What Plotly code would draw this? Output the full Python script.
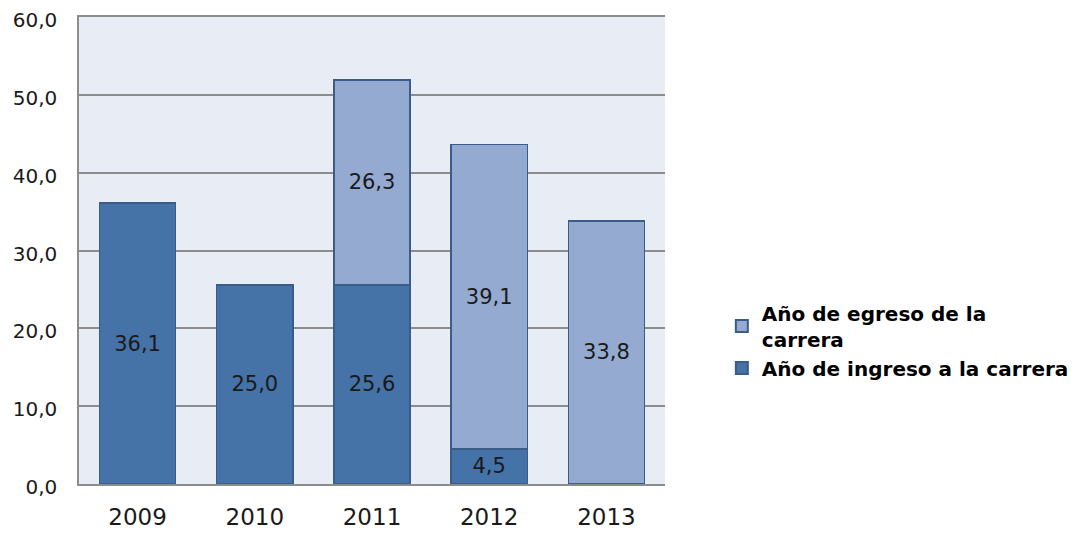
import plotly.graph_objects as go

years = ["2009", "2010", "2011", "2012", "2013"]
ingreso = [36.1, 25.6, 25.6, 4.5, None]
ingreso_labels = ["36,1", "25,0", "25,6", "4,5", ""]
egreso = [None, None, 26.3, 39.1, 33.8]
egreso_labels = ["", "", "26,3", "39,1", "33,8"]
yticks = [0, 10, 20, 30, 40, 50, 60]

FONT = "'DejaVu Sans', sans-serif"

fig = go.Figure()
fig.add_trace(go.Bar(
    x=years, y=ingreso, name="Año de ingreso a la carrera",
    text=ingreso_labels, textposition="inside", insidetextanchor="middle",
    textfont=dict(size=21, color="#1a1a1a", family=FONT),
    marker=dict(color="#4572A7", line=dict(color="#385D8A", width=1.5)),
    hoverinfo="skip",
))
fig.add_trace(go.Bar(
    x=years, y=egreso, name="Año de egreso de la<br>carrera",
    text=egreso_labels, textposition="inside", insidetextanchor="middle",
    textfont=dict(size=21, color="#1a1a1a", family=FONT),
    marker=dict(color="#95AAD0", line=dict(color="#385D8A", width=1.5)),
    hoverinfo="skip",
))

# page body has an 8px margin: compensate so the plot area lands at 79..665 x 17..484
fig.update_layout(
    barmode="stack",
    bargap=0.35,
    width=1071, height=525,
    margin=dict(l=71, r=414, t=9, b=49, autoexpand=False),
    paper_bgcolor="white",
    plot_bgcolor="#E8EDF5",
    separators=",.",
    font=dict(family=FONT, size=21, color="#1a1a1a"),
    uniformtext=dict(minsize=21, mode="show"),
    showlegend=True,
    legend=dict(
        x=1.097, xanchor="left", y=0.408, yanchor="top",
        traceorder="reversed",
        font=dict(size=20, family=FONT, color="black", weight="bold"),
        itemsizing="constant",
        bgcolor="rgba(0,0,0,0)",
    ),
    xaxis=dict(
        showline=True, linecolor="#8C8C8C", linewidth=1.5, mirror=True,
        ticks="", tickfont=dict(size=23), ticklabelstandoff=12,
        automargin=False,
    ),
    yaxis=dict(
        range=[0, 60], tickvals=yticks, tickformat=".1f",
        showgrid=True, gridcolor="#8C8C8C", gridwidth=1.5,
        showline=True, linecolor="#8C8C8C", linewidth=1.5,
        zeroline=False, ticks="", tickfont=dict(size=20),
        ticklabelstandoff=16, ticklabelshift=3,
        automargin=False, ticklabeloverflow="allow",
    ),
)

fig.write_html("out.html")
